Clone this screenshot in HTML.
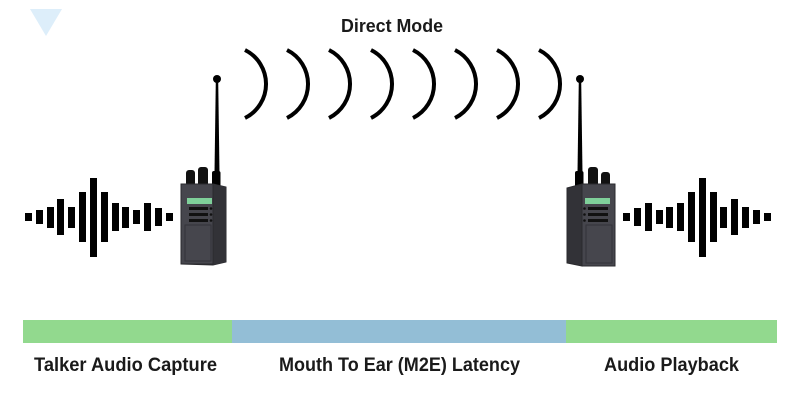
<!DOCTYPE html>
<html><head><meta charset="utf-8"><style>
html,body{margin:0;padding:0;background:#fff;}
svg{display:block;}
text{font-family:"Liberation Sans",sans-serif;font-weight:bold;fill:#1a1a1a;}
</style></head><body>
<svg width="800" height="400" viewBox="0 0 800 400" xmlns="http://www.w3.org/2000/svg">
<rect width="800" height="400" fill="#fff"/>
<polygon points="30,9 62,9 46,36" fill="#ddeefa"/>
<text x="341" y="32" font-size="18" textLength="102" lengthAdjust="spacingAndGlyphs">Direct Mode</text>
<g fill="none" stroke="#000" stroke-width="4">
<path d="M245,50 A38,38 0 0 1 245,118"/>
<path d="M287,50 A38,38 0 0 1 287,118"/>
<path d="M329,50 A38,38 0 0 1 329,118"/>
<path d="M371,50 A38,38 0 0 1 371,118"/>
<path d="M413,50 A38,38 0 0 1 413,118"/>
<path d="M455,50 A38,38 0 0 1 455,118"/>
<path d="M497,50 A38,38 0 0 1 497,118"/>
<path d="M539,50 A38,38 0 0 1 539,118"/>
</g>
<g fill="#000">
<rect x="25" y="213" width="7" height="8"/>
<rect x="36" y="210" width="7" height="14"/>
<rect x="47" y="207" width="7" height="21"/>
<rect x="57" y="199" width="7" height="36"/>
<rect x="68" y="207" width="7" height="21"/>
<rect x="79" y="192" width="7" height="50"/>
<rect x="90" y="178" width="7" height="79"/>
<rect x="101" y="192" width="7" height="50"/>
<rect x="112" y="203" width="7" height="28"/>
<rect x="122" y="207" width="7" height="21"/>
<rect x="133" y="210" width="7" height="14"/>
<rect x="144" y="203" width="7" height="28"/>
<rect x="155" y="208" width="7" height="18"/>
<rect x="166" y="213" width="7" height="8"/>

<rect x="623" y="213" width="7" height="8"/>
<rect x="634" y="208" width="7" height="18"/>
<rect x="645" y="203" width="7" height="28"/>
<rect x="656" y="210" width="7" height="14"/>
<rect x="666" y="207" width="7" height="21"/>
<rect x="677" y="203" width="7" height="28"/>
<rect x="688" y="192" width="7" height="50"/>
<rect x="699" y="178" width="7" height="79"/>
<rect x="710" y="192" width="7" height="50"/>
<rect x="720" y="207" width="7" height="21"/>
<rect x="731" y="199" width="7" height="36"/>
<rect x="742" y="207" width="7" height="21"/>
<rect x="753" y="210" width="7" height="14"/>
<rect x="764" y="213" width="7" height="8"/>
</g>
<!-- left radio -->
<g>
<polygon points="215.8,80 218.2,80 219.5,173 214.5,173" fill="#000"/>
<circle cx="217" cy="79" r="4" fill="#000"/>
<rect x="212" y="171" width="8.5" height="17" rx="2" fill="#000"/>
<rect x="186" y="170" width="9" height="16" rx="3" fill="#111"/>
<rect x="198" y="167" width="10" height="20" rx="3" fill="#111"/>
<polygon points="181,184 213,184 226,187 226,262 213,265 181,264" fill="#3b3b41" stroke="#2a2a2e" stroke-width="1"/>
<polygon points="213,184 226,187 226,262 213,265" fill="#323237"/>
<rect x="181" y="184" width="32" height="80" fill="#46464d" stroke="#2a2a2e" stroke-width="1"/>
<rect x="187" y="198" width="25" height="6" fill="#7fd09a"/>
<rect x="189" y="207" width="19" height="3" fill="#111"/>
<rect x="189" y="213" width="19" height="3" fill="#111"/>
<rect x="189" y="219" width="19" height="3" fill="#111"/>
<circle cx="211" cy="208.5" r="1.3" fill="#111"/>
<circle cx="211" cy="214.5" r="1.3" fill="#111"/>
<circle cx="211" cy="220.5" r="1.3" fill="#111"/>
<rect x="185" y="225" width="26" height="36" fill="none" stroke="#333339" stroke-width="1"/>
</g>
<!-- right radio -->
<g>
<polygon points="578.8,80 581.2,80 582.5,173 577.5,173" fill="#000"/>
<circle cx="580" cy="79" r="4" fill="#000"/>
<rect x="575" y="171" width="8.5" height="17" rx="2" fill="#000"/>
<rect x="588" y="167" width="10" height="20" rx="3" fill="#111"/>
<rect x="601" y="172" width="9" height="15" rx="3" fill="#111"/>
<polygon points="567,188 582,184 582,266 567,263" fill="#323237" stroke="#2a2a2e" stroke-width="1"/>
<rect x="582" y="184" width="33" height="82" fill="#46464d" stroke="#2a2a2e" stroke-width="1"/>
<rect x="585" y="198" width="25" height="6" fill="#7fd09a"/>
<rect x="588" y="207" width="20" height="3" fill="#111"/>
<rect x="588" y="213" width="20" height="3" fill="#111"/>
<rect x="588" y="219" width="20" height="3" fill="#111"/>
<circle cx="584.5" cy="208.5" r="1.3" fill="#111"/>
<circle cx="584.5" cy="214.5" r="1.3" fill="#111"/>
<circle cx="584.5" cy="220.5" r="1.3" fill="#111"/>
<rect x="586" y="225" width="26" height="38" fill="none" stroke="#333339" stroke-width="1"/>
</g>
<!-- bars -->
<rect x="23" y="320" width="209" height="23" fill="#92d98e"/>
<rect x="232" y="320" width="334" height="23" fill="#93bed6"/>
<rect x="566" y="320" width="211" height="23" fill="#92d98e"/>
<text x="34" y="371" font-size="19" textLength="183" lengthAdjust="spacingAndGlyphs">Talker Audio Capture</text>
<text x="279" y="371" font-size="19" textLength="241" lengthAdjust="spacingAndGlyphs">Mouth To Ear (M2E) Latency</text>
<text x="604" y="371" font-size="19" textLength="135" lengthAdjust="spacingAndGlyphs">Audio Playback</text>
</svg>
</body></html>
